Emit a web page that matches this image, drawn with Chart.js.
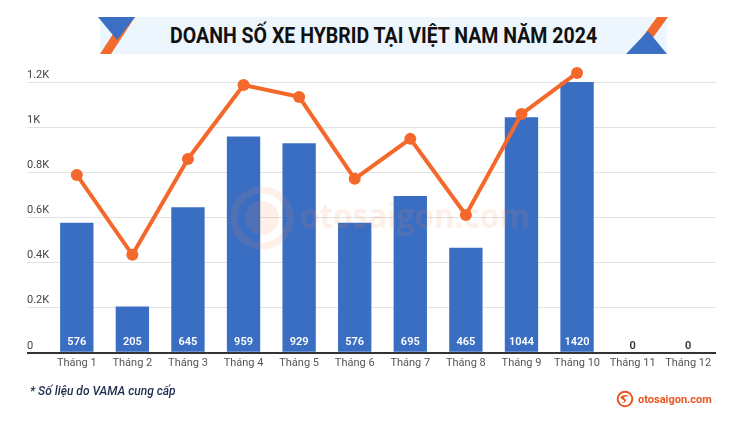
<!DOCTYPE html>
<html lang="vi">
<head>
<meta charset="utf-8">
<title>Doanh số xe hybrid tại Việt Nam năm 2024</title>
<script src="https://cdn.jsdelivr.net/npm/chart.js@4.4.1/dist/chart.umd.min.js"></script>
<style>
  html, body { margin: 0; padding: 0; background: #fff; }
  #khung { position: relative; width: 750px; height: 430px; overflow: hidden; font-family: Roboto, sans-serif; }
  #bieuDo { position: absolute; left: 0; top: 0; }
  #bangTieuDe { position: absolute; left: 0; top: 0; }
  #tieuDe {
    position: absolute; left: 9px; width: 750px; top: 17px; height: 37px; line-height: 37px;
    text-align: center; white-space: nowrap;
  }
  #tieuDe span {
    display: inline-block; font-family: Roboto, sans-serif; font-weight: 700; font-size: 22px;
    color: #111; transform-origin: center center;
  }
  #ghiChu {
    position: absolute; left: 30px; top: 384px; font-family: Roboto, sans-serif; font-style: italic;
    font-weight: 500; font-size: 12px; color: #1d2b4c;
  }
  #logo {
    position: absolute; left: 616px; top: 390px; height: 18px; display: flex; align-items: center;
    font-family: Roboto, sans-serif; font-weight: 700; font-size: 11px; color: #e8561f;
  }
  #logo svg { margin-right: 4px; }
</style>
</head>
<body>
<div id="khung">
  <canvas id="bieuDo" width="750" height="430"></canvas>
  <svg id="bangTieuDe" width="750" height="60">
    <rect x="100" y="17" width="567" height="37" fill="#edf6fd"/>
    <polygon points="124,17 135,17 111,54 100,54" fill="#f26a2e"/>
    <polygon points="98,17 135,17 117,40" fill="#3b6fc4"/>
    <polygon points="657,17 668,17 641,54 630,54" fill="#f26a2e"/>
    <polygon points="626,54 667,54 648,31" fill="#3b6fc4"/>
  </svg>
  <div id="tieuDe"><span>DOANH SỐ XE HYBRID TẠI VIỆT NAM NĂM 2024</span></div>
  <div id="ghiChu">* Số liệu do VAMA cung cấp</div>
  <div id="logo">
    <svg width="18" height="18" viewBox="0 0 18 18">
      <circle cx="9" cy="9" r="7.3" fill="none" stroke="#e8561f" stroke-width="2"/>
      <path d="M4 7.5 C7 4, 12 4.5, 13 6.5 C9 5.8, 7 7.5, 9 9 C11 10.5, 10 13, 5 12.5 C8 12, 9 11, 7.5 10 C5.5 8.8, 5 8, 4 7.5 Z" fill="#e8561f"/>
    </svg>
    <span>otosaigon.com</span>
  </div>
</div>
<script>
// Dữ liệu
const thang = ['Tháng 1', 'Tháng 2', 'Tháng 3', 'Tháng 4', 'Tháng 5', 'Tháng 6',
               'Tháng 7', 'Tháng 8', 'Tháng 9', 'Tháng 10', 'Tháng 11', 'Tháng 12'];
const doanhSo = [576, 205, 645, 959, 929, 576, 695, 465, 1044, 1420, 0, 0];
// Đường xu hướng (không có nhãn, ước lượng theo trục)
const duongXuHuong = [788, 434, 859, 1187, 1134, 771, 948, 611, 1058, 1240, null, null];
const nhanTrucY = ['0', '0.2K', '0.4K', '0.6K', '0.8K', '1K', '1.2K'];

const mauCot = '#3a6ec3';
const mauDuong = '#f4692b';

// Co giãn tiêu đề cho vừa chiều rộng của bản gốc
const tieuDe = document.querySelector('#tieuDe span');
const rongTieuDe = tieuDe.getBoundingClientRect().width;
tieuDe.style.transform = 'scaleX(' + (427 / rongTieuDe) + ')';

// Vẽ số liệu ở chân mỗi cột
const nhanCot = {
    id: 'nhanCot',
    afterDatasetsDraw(chart) {
        const ctx = chart.ctx;
        const meta = chart.getDatasetMeta(1);
        ctx.save();
        ctx.font = '600 11px Roboto';
        ctx.textAlign = 'center';
        ctx.textBaseline = 'middle';
        meta.data.forEach((cot, i) => {
            const giaTri = doanhSo[i];
            ctx.fillStyle = giaTri > 0 ? '#ffffff' : '#333333';
            ctx.fillText(String(giaTri), cot.x, cot.base - (giaTri > 0 ? 10 : 7));
        });
        ctx.restore();
    }
};

// Hình mờ otosaigon.com, vẽ sau các cột và trước đường
const hinhMo = {
    id: 'hinhMo',
    afterDatasetDraw(chart, args) {
        if (args.index !== 1) return;
        const ctx = chart.ctx;
        ctx.save();
        ctx.globalAlpha = 0.13;
        ctx.strokeStyle = '#f08a55';
        ctx.fillStyle = '#f08a55';
        ctx.lineWidth = 7;
        ctx.beginPath();
        ctx.arc(262, 218, 28, 0, Math.PI * 2);
        ctx.stroke();
        ctx.beginPath();
        ctx.arc(262, 218, 17, 0, Math.PI * 2);
        ctx.fill();
        ctx.font = 'bold 34px "Open Sans"';
        ctx.textBaseline = 'middle';
        const rong = ctx.measureText('otosaigon.com').width;
        ctx.translate(300, 218);
        ctx.scale(230 / rong, 1);
        ctx.fillText('otosaigon.com', 0, 0);
        ctx.restore();
    }
};

// Cho phép điểm của đường vượt lên trên vùng biểu đồ (điểm Tháng 10)
let vungGoc = null;
const khongCatDiem = {
    id: 'khongCatDiem',
    beforeDatasetDraw(chart, args) {
        if (args.index !== 0) return;
        vungGoc = chart.chartArea;
        chart.chartArea = Object.assign({}, vungGoc, { top: 0 });
    },
    afterDatasetDraw(chart, args) {
        if (args.index !== 0 || !vungGoc) return;
        chart.chartArea = vungGoc;
        vungGoc = null;
    }
};

Chart.defaults.font.family = 'Roboto, sans-serif';

new Chart(document.getElementById('bieuDo').getContext('2d'), {
    type: 'bar',
    data: {
        labels: thang,
        datasets: [
            {
                type: 'line',
                label: 'Xu hướng',
                data: duongXuHuong,
                borderColor: mauDuong,
                backgroundColor: mauDuong,
                borderWidth: 4,
                pointRadius: 6,
                pointHoverRadius: 6,
                pointBackgroundColor: mauDuong,
                pointBorderWidth: 0,
                tension: 0,
                clip: false,
                order: 0
            },
            {
                type: 'bar',
                label: 'Doanh số',
                data: doanhSo,
                backgroundColor: mauCot,
                borderWidth: 0,
                barPercentage: 0.6,
                categoryPercentage: 1,
                order: 1
            }
        ]
    },
    options: {
        responsive: false,
        animation: false,
        layout: { padding: { left: 27, right: 34, top: 82, bottom: 56 } },
        plugins: {
            legend: { display: false },
            tooltip: { enabled: false }
        },
        scales: {
            x: {
                grid: { display: false, drawTicks: false },
                border: { display: false },
                ticks: { color: '#555', font: { size: 11 }, padding: 4 }
            },
            y: {
                min: 0,
                max: 1200,
                border: { display: false },
                grid: {
                    color: (c) => c.tick && c.tick.value === 0 ? '#333' : '#e2e2e2',
                    lineWidth: (c) => c.tick && c.tick.value === 0 ? 2 : 1,
                    drawTicks: true,
                    tickLength: 22
                },
                ticks: {
                    stepSize: 200,
                    color: '#444',
                    font: { size: 11 },
                    crossAlign: 'far',
                    labelOffset: -7,
                    padding: 0,
                    callback: (v, i) => nhanTrucY[i]
                },
                afterFit: (truc) => { truc.width = 22; }
            }
        }
    },
    plugins: [hinhMo, khongCatDiem, nhanCot]
});
</script>
</body>
</html>
